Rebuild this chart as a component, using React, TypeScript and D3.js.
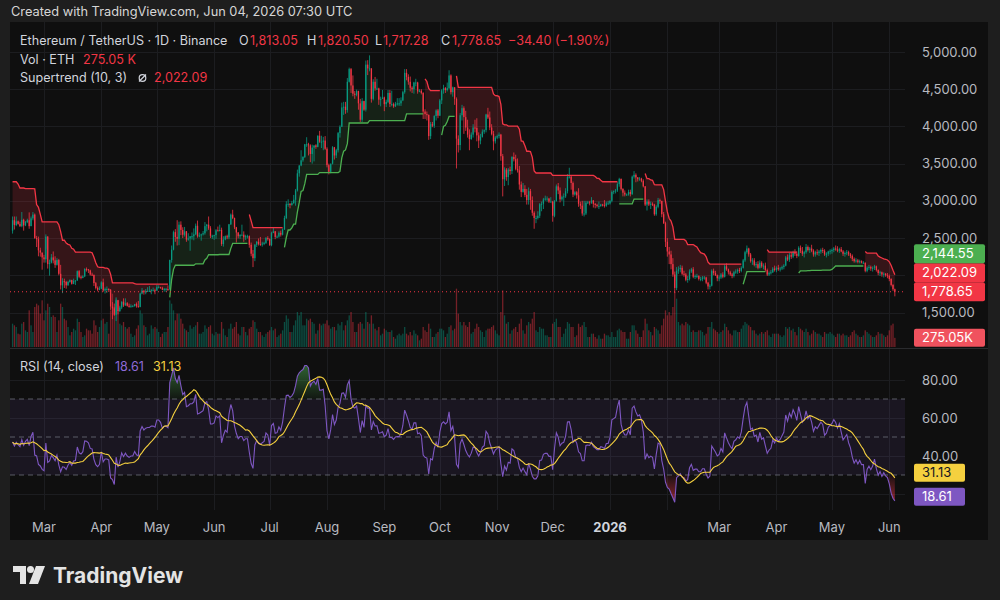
import React, { useMemo } from "react";
import * as d3 from "d3";

// ---------- DATA (daily candles, [high, low, close]; open = previous close) ----------
const firstOpen = 2600;
const startDay = "2025-02-12";

const feb25 = [[2790,2560,2740],[2790,2615,2675],[2790,2660,2725],[2735,2680,2690],[2720,2650,2660],[2850,2645,2745],[2760,2600,2670],[2730,2660,2715],[2760,2700,2740],[2845,2625,2660],[2790,2660,2765],[2850,2740,2815],[2830,2490,2500],[2530,2380,2485],[2520,2255,2335],[2370,2250,2305],[2300,2075,2240]];
const mar25 = [[2275,2170,2215],[2550,2170,2520],[2525,2090,2150],[2210,1995,2170],[2285,2160,2240],[2320,2160,2200],[2255,2100,2140],[2230,2130,2205],[2220,2000,2020],[2140,1810,1865],[1960,1760,1920],[1955,1830,1910],[1925,1820,1865],[1925,1860,1910],[1945,1900,1935],[1940,1875,1885],[1955,1880,1925],[1935,1870,1930],[2065,1925,2055],[2070,1960,1980],[1995,1945,1965],[2000,1960,1985],[2095,1975,2085],[2105,2050,2080],[2085,2030,2065],[2075,1995,2010],[2035,1990,2005],[2010,1855,1895],[1910,1810,1830],[1850,1785,1805],[1850,1800,1820]];
const apr25 = [[1920,1815,1905],[1955,1780,1795],[1835,1755,1815],[1850,1765,1815],[1825,1775,1805],[1815,1535,1580],[1640,1410,1555],[1620,1455,1470],[1690,1385,1665],[1670,1475,1520],[1590,1505,1567],[1650,1545,1645],[1690,1575,1595],[1690,1590,1625],[1640,1580,1590],[1620,1565,1575],[1610,1565,1585],[1600,1575,1585],[1615,1580,1615],[1635,1565,1585],[1655,1565,1575],[1765,1570,1755],[1830,1745,1795],[1795,1740,1770],[1815,1745,1785],[1840,1780,1790],[1855,1785,1790],[1815,1745,1800],[1835,1785,1800],[1820,1745,1795]];
const may25 = [[1870,1790,1840],[1865,1825,1840],[1845,1820,1830],[1845,1800,1805],[1830,1780,1815],[1830,1775,1815],[1865,1790,1810],[2210,1805,2205],[2400,2170,2345],[2600,2335,2580],[2620,2450,2515],[2740,2400,2490],[2720,2405,2680],[2725,2540,2610],[2645,2500,2545],[2650,2520,2590],[2595,2450,2480],[2565,2465,2495],[2525,2330,2525],[2575,2480,2525],[2630,2470,2550],[2695,2540,2665],[2735,2505,2525],[2575,2510,2535],[2560,2465,2550],[2595,2535,2565],[2715,2545,2660],[2690,2590,2680],[2790,2610,2630],[2660,2500,2530],[2545,2490,2530]];
const jun25 = [[2545,2475,2540],[2620,2490,2605],[2655,2590,2595],[2680,2590,2610],[2640,2395,2420],[2525,2385,2480],[2535,2470,2525],[2545,2485,2510],[2690,2485,2685],[2830,2675,2815],[2880,2755,2770],[2775,2620,2645],[2650,2440,2575],[2580,2495,2525],[2550,2490,2545],[2680,2535,2545],[2590,2450,2510],[2545,2475,2525],[2545,2495,2525],[2535,2370,2410],[2440,2255,2290],[2340,2110,2230],[2420,2190,2410],[2460,2380,2450],[2495,2400,2420],[2515,2395,2415],[2450,2385,2425],[2450,2405,2435],[2515,2420,2500],[2525,2465,2485]];
const jul25 = [[2495,2395,2405],[2585,2390,2570],[2640,2565,2590],[2595,2485,2515],[2535,2500,2520],[2590,2505,2570],[2600,2520,2545],[2630,2535,2615],[2800,2610,2770],[2995,2755,2955],[3020,2920,2960],[2970,2900,2945],[3000,2935,2970],[3080,2960,3015],[3160,2935,3140],[3420,3125,3370],[3480,3325,3475],[3680,3465,3545],[3600,3525,3590],[3765,3575,3760],[3855,3725,3760],[3780,3610,3745],[3760,3520,3630],[3755,3500,3715],[3745,3530,3745],[3760,3700,3725],[3880,3720,3875],[3940,3780,3795],[3875,3710,3795],[3860,3680,3810],[3870,3685,3700]];
const aug25 = [[3720,3450,3480],[3500,3355,3390],[3500,3370,3500],[3735,3490,3720],[3725,3555,3610],[3700,3575,3680],[3925,3650,3910],[4015,3850,3995],[4320,3995,4255],[4330,4155,4265],[4330,4170,4220],[4650,4185,4600],[4790,4590,4770],[4785,4450,4550],[4685,4405,4440],[4475,4370,4425],[4495,4405,4475],[4480,4225,4310],[4370,4060,4090],[4380,4060,4340],[4345,4210,4225],[4885,4200,4830],[4890,4690,4780],[4955,4740,4780],[4780,4320,4370],[4635,4350,4600],[4665,4480,4510],[4640,4490,4510],[4520,4290,4360],[4400,4270,4370],[4490,4375,4390]];
const sep25 = [[4400,4205,4300],[4360,4260,4330],[4490,4315,4450],[4490,4260,4300],[4480,4270,4300],[4320,4250,4270],[4330,4260,4305],[4380,4280,4310],[4380,4275,4310],[4390,4275,4350],[4480,4340,4460],[4770,4440,4720],[4770,4620,4665],[4700,4560,4600],[4670,4470,4520],[4540,4450,4500],[4600,4440,4590],[4640,4540,4590],[4600,4440,4470],[4500,4460,4480],[4500,4430,4450],[4460,4100,4200],[4230,4100,4165],[4200,4080,4155],[4160,3820,3870],[4060,3830,4030],[4060,3990,4010],[4150,3980,4140],[4230,4080,4215],[4235,4110,4145]];
const oct25 = [[4370,4140,4350],[4500,4300,4485],[4560,4440,4515],[4530,4450,4490],[4590,4470,4515],[4755,4500,4685],[4700,4430,4460],[4535,4400,4525],[4530,4290,4370],[4390,3435,3835],[3880,3650,3750],[4180,3680,4150],[4290,4080,4245],[4270,3900,4125],[4210,3940,3985],[4090,3850,3890],[3960,3680,3830],[3920,3820,3890],[4030,3850,3985],[4090,3920,3980],[4110,3800,3880],[3920,3710,3810],[3900,3760,3860],[3960,3850,3930],[3960,3900,3950],[4170,3920,4160],[4250,4100,4120],[4200,3950,3985],[4030,3880,3900],[3940,3680,3800],[3870,3770,3850]];
const nov25 = [[3890,3830,3870],[3920,3840,3890],[3900,3540,3600],[3630,3060,3290],[3450,3200,3420],[3440,3270,3320],[3440,3210,3420],[3460,3350,3400],[3600,3360,3590],[3650,3530,3560],[3620,3410,3430],[3570,3380,3410],[3470,3150,3220],[3260,3050,3120],[3240,3110,3160],[3210,3050,3080],[3160,2950,3010],[3180,2950,3130],[3160,2880,3010],[3060,2800,2840],[2860,2625,2770],[2800,2700,2770],[2860,2750,2800],[2970,2770,2955],[2990,2860,2960],[3040,2890,3020],[3070,3000,3030],[3060,2990,3030],[3040,2970,2990],[3050,2980,2990]];
const dec25 = [[3000,2720,2800],[3010,2780,3000],[3220,2990,3195],[3240,3090,3140],[3180,2980,3020],[3070,3000,3050],[3100,2930,3060],[3170,3040,3130],[3360,3100,3320],[3445,3300,3325],[3340,3150,3240],[3260,3050,3085],[3130,3070,3115],[3130,3030,3075],[3170,2920,2960],[2990,2890,2935],[3000,2800,2830],[3000,2790,2830],[3000,2810,2975],[3000,2960,2980],[3000,2940,2975],[3050,2960,3005],[3010,2910,2960],[2970,2900,2945],[2960,2910,2930],[2990,2890,2930],[2960,2920,2950],[2960,2925,2945],[3010,2910,2935],[2990,2920,2965],[3000,2950,2965]];
const jan26 = [[3010,2950,3000],[3140,2980,3120],[3140,3090,3130],[3160,3100,3140],[3250,3120,3225],[3310,3190,3295],[3300,3140,3160],[3170,3060,3110],[3140,3060,3085],[3100,3070,3085],[3150,3070,3120],[3150,3060,3090],[3340,3080,3325],[3400,3300,3350],[3370,3250,3315],[3320,3260,3290],[3320,3270,3300],[3310,3250,3270],[3290,3180,3195],[3200,2930,2950],[3020,2870,2990],[3020,2930,2950],[2990,2890,2960],[2980,2930,2950],[2960,2800,2820],[2940,2800,2920],[3040,2900,3010],[3030,2960,3000],[3000,2780,2820],[2850,2690,2700],[2720,2380,2450]];
const feb26 = [[2500,2250,2320],[2380,2150,2280],[2330,2080,2150],[2230,1980,2010],[2050,1760,1830],[2110,1800,2060],[2120,2020,2080],[2140,2040,2100],[2130,2000,2020],[2060,1980,2010],[2030,1920,1940],[1990,1900,1950],[2080,1930,2050],[2100,2030,2080],[2110,1960,1980],[2010,1950,1990],[2020,1960,1990],[2000,1930,1950],[1980,1920,1950],[1990,1920,1970],[1990,1940,1970],[1980,1880,1900],[1910,1810,1850],[1880,1810,1860],[2080,1850,2060],[2090,2000,2030],[2060,1990,2000],[2010,1920,1960]];
const mar26 = [[2000,1920,1970],[2030,1950,2010],[2040,1960,1980],[2150,1970,2120],[2160,2060,2080],[2090,2010,2040],[2060,1990,2010],[2030,1960,1990],[2060,1970,2040],[2080,2020,2050],[2090,2020,2070],[2100,2030,2060],[2120,2040,2100],[2220,2090,2200],[2330,2180,2310],[2400,2290,2360],[2370,2250,2280],[2300,2170,2190],[2230,2140,2200],[2230,2120,2140],[2180,2100,2150],[2190,2080,2100],[2200,2090,2170],[2190,2100,2120],[2160,2080,2130],[2170,2050,2070],[2090,1990,2010],[2050,1990,2030],[2070,2010,2040],[2110,2030,2090],[2130,2050,2070]];
const apr26 = [[2120,2040,2100],[2140,2060,2080],[2110,2050,2090],[2130,2070,2110],[2150,2080,2130],[2260,2120,2240],[2280,2190,2210],[2300,2180,2270],[2310,2220,2250],[2330,2230,2310],[2350,2260,2290],[2320,2230,2260],[2390,2250,2370],[2400,2300,2330],[2380,2260,2290],[2330,2240,2310],[2420,2290,2380],[2400,2320,2340],[2380,2300,2360],[2410,2310,2330],[2350,2250,2280],[2330,2250,2310],[2350,2270,2300],[2340,2260,2320],[2360,2290,2340],[2370,2300,2330],[2350,2260,2280],[2310,2240,2290],[2330,2260,2320],[2350,2280,2330]];
const may26 = [[2360,2290,2340],[2380,2310,2360],[2400,2330,2350],[2390,2310,2330],[2370,2300,2350],[2380,2310,2320],[2340,2260,2290],[2320,2250,2300],[2340,2270,2310],[2330,2260,2280],[2300,2230,2260],[2280,2190,2220],[2240,2170,2190],[2230,2170,2200],[2220,2160,2180],[2210,2160,2190],[2200,2160,2170],[2190,2150,2170],[2170,2040,2060],[2120,2040,2100],[2140,2070,2110],[2130,2060,2090],[2120,2050,2100],[2140,2070,2120],[2130,2050,2070],[2080,2000,2030],[2060,1990,2040],[2050,1980,2010],[2040,1970,2020],[2030,1980,2000],[2030,1960,1990]];
const jun26 = [[2010,1920,1950],[1960,1850,1870],[1880,1790,1813.05],[1820.5,1717.28,1778.65]];

// daily volume, thousands of ETH
const volFeb25 = [700,650,600,400,380,700,750,500,450,1100,650,450,1200,1300,1250,1000,1400];
const volMar25 = [800,1100,1300,1200,900,950,900,450,800,1300,1200,850,800,600,350,450,550,500,850,750,450,300,350,550,500,500,400,800,650,450,600];
const volApr25 = [800,850,700,750,400,1100,1600,1200,1500,1100,700,650,750,600,550,600,400,300,350,550,650,1100,1000,650,600,350,400,650,550,600];
const volMay25 = [550,450,300,400,450,450,600,1400,1300,1100,800,1000,1000,850,700,550,500,450,650,550,600,650,750,400,400,450,650,550,600,650,400];
const volJun25 = [350,450,400,400,750,550,350,300,550,700,550,600,750,400,350,600,600,450,350,550,600,800,750,550,450,450,350,300,400,450];
const volJul25 = [500,600,500,550,300,350,400,500,750,950,850,450,450,650,800,1050,950,1050,650,650,850,800,850,750,700,400,500,700,650,700,700];
const volAug25 = [800,650,550,600,600,500,700,650,750,500,650,800,950,1050,750,450,450,700,750,700,550,1050,750,700,950,700,550,500,600,350,400];
const volSep25 = [550,500,450,450,500,300,250,350,400,350,400,600,400,350,450,350,500,400,350,200,250,600,500,450,700,550,300,300,400,450];
const volOct25 = [550,550,500,300,400,600,650,500,550,1750,1000,750,650,750,650,600,750,400,450,550,700,600,500,450,300,500,550,550,600,650,500];
const volNov25 = [400,350,1050,1700,950,700,750,400,500,550,600,450,700,850,500,400,650,750,700,850,1050,500,450,600,550,550,350,350,300,300];
const volDec25 = [700,750,850,600,600,300,400,550,750,700,600,600,300,350,700,600,650,750,600,300,300,400,400,300,250,350,250,250,400,350,350];
const volJan26 = [300,450,300,300,500,550,500,450,450,250,250,450,650,650,500,400,300,300,500,850,700,500,450,350,600,550,500,400,650,850,1100];
const volFeb26 = [950,1050,950,1200,1650,1450,750,650,700,650,750,700,650,450,500,450,450,500,500,450,350,400,600,600,750,550,500,450];
const volMar26 = [400,450,500,700,600,500,400,350,500,500,450,450,550,650,750,700,650,600,500,500,400,350,400,450,400,450,500,350,300,400,400];
const volApr26 = [400,400,350,300,350,600,550,600,500,550,450,350,600,550,500,450,550,450,350,400,500,450,400,400,350,300,450,400,400,450];
const volMay26 = [400,350,300,400,400,350,400,350,350,300,350,450,500,400,350,300,300,350,500,450,400,350,300,300,350,450,400,400,350,300,350];
const volJun26 = [500,650,700,275.05];

// indicator seeds (state before the first visible bar)
const stSeed = { atr: 190, upper: 3284, lower: 2200, close: 2600, dir: 1 };
const rsiSeed = { gain: 45, loss: 62 };

// header / last values
const lastO = "1,813.05", lastH = "1,820.50", lastL = "1,717.28", lastC = "1,778.65";
const lastChange = "−34.40 (−1.90%)";
const lastVolLabel = "275.05 K";
const lastVolBox = "275.05K";
const stValue = 2022.09;
const stUpValue = 2144.55;
const lastClose = 1778.65;
const rsiLast = 18.61;
const rsiMaLast = 31.13;

const priceTicks = [1500, 2000, 2500, 3000, 3500, 4000, 4500, 5000];
const priceTickLabels = [1500, 2500, 3000, 3500, 4000, 4500, 5000];
const rsiTicks = [20, 40, 60, 80];
const rsiTickLabels = [40, 60, 80];
const rsiLevels = [70, 50, 30];
const timeTicks: [string, string][] = [
  ["2025-03-01", "Mar"], ["2025-04-01", "Apr"], ["2025-05-01", "May"], ["2025-06-01", "Jun"],
  ["2025-07-01", "Jul"], ["2025-08-01", "Aug"], ["2025-09-01", "Sep"], ["2025-10-01", "Oct"],
  ["2025-11-01", "Nov"], ["2025-12-01", "Dec"], ["2026-01-01", "2026"], ["2026-03-01", "Mar"],
  ["2026-04-01", "Apr"], ["2026-05-01", "May"], ["2026-06-01", "Jun"],
];

// ---------- helpers ----------
type Bar = { t: Date; o: number; h: number; l: number; c: number; v: number };

function buildBars(): Bar[] {
  const ohlc = [feb25, mar25, apr25, may25, jun25, jul25, aug25, sep25, oct25, nov25, dec25, jan26, feb26, mar26, apr26, may26, jun26].flat();
  const vols = [volFeb25, volMar25, volApr25, volMay25, volJun25, volJul25, volAug25, volSep25, volOct25, volNov25, volDec25, volJan26, volFeb26, volMar26, volApr26, volMay26, volJun26].flat();
  const t0 = new Date(startDay + "T00:00:00Z");
  let prev = firstOpen;
  return ohlc.map(([h, l, c], i) => {
    const o = prev;
    prev = c;
    return { t: d3.utcDay.offset(t0, i), o, h: Math.max(h, o, c), l: Math.min(l, o, c), c, v: vols[i] ?? 0 };
  });
}

function supertrend(bars: Bar[], period = 10, factor = 3) {
  let atr = stSeed.atr, prevUpper = stSeed.upper, prevLower = stSeed.lower, prevClose = stSeed.close;
  let dir = stSeed.dir;
  let prevST = dir === 1 ? prevUpper : prevLower;
  return bars.map((b) => {
    const tr = Math.max(b.h - b.l, Math.abs(b.h - prevClose), Math.abs(b.l - prevClose));
    atr = (atr * (period - 1) + tr) / period;
    const src = (b.h + b.l) / 2;
    let upper = src + factor * atr;
    let lower = src - factor * atr;
    lower = lower > prevLower || prevClose < prevLower ? lower : prevLower;
    upper = upper < prevUpper || prevClose > prevUpper ? upper : prevUpper;
    if (prevST === prevUpper) dir = b.c > upper ? -1 : 1;
    else dir = b.c < lower ? 1 : -1;
    const st = dir === -1 ? lower : upper;
    prevUpper = upper; prevLower = lower; prevClose = b.c; prevST = st;
    return { st, dir };
  });
}

function rsiCalc(bars: Bar[], n = 14) {
  let ag = rsiSeed.gain, al = rsiSeed.loss, prev = firstOpen;
  return bars.map((b) => {
    const ch = b.c - prev;
    prev = b.c;
    ag = (ag * (n - 1) + Math.max(ch, 0)) / n;
    al = (al * (n - 1) + Math.max(-ch, 0)) / n;
    return al === 0 ? 100 : 100 - 100 / (1 + ag / al);
  });
}

const fmt = d3.format(",.2f");

const BG = "#1e1e1e", PANE = "#0f0f0f", GRID = "#1c1d20", TXT = "#b8bac0", HEAD = "#d1d4dc";
const UP = "#089981", DOWN = "#f23645", STUP = "#4caf50", STDN = "#f23645";
const FONT = "Inter, 'Noto Sans', Roboto, sans-serif";

export default function App() {
  const bars = useMemo(buildBars, []);
  const st = useMemo(() => supertrend(bars), [bars]);
  const rsi = useMemo(() => rsiCalc(bars), [bars]);
  const rsiMa = useMemo(() => rsi.map((_, i) => d3.mean(rsi.slice(Math.max(0, i - 13), i + 1)) as number), [rsi]);

  const L = 10, R = 905, AXR = 988, TOP = 22, MAINB = 348, RSIT = 349, RSIB = 510, BOT = 540;
  const x = d3.scaleUtc().domain([new Date("2025-03-01T00:00:00Z"), new Date("2026-01-01T00:00:00Z")]).range([44, 610]);
  const y = d3.scaleLinear().domain([1500, 5000]).range([312.5, 52]);
  const yv = d3.scaleLinear().domain([0, 1000]).range([347, 347 - 1000 / 30]);
  const yr = d3.scaleLinear().domain([40, 80]).range([456, 380]);

  // supertrend runs
  const runs: { dir: number; idx: number[] }[] = [];
  st.forEach((s, i) => {
    const last = runs[runs.length - 1];
    if (!last || last.dir !== s.dir) runs.push({ dir: s.dir, idx: [i] });
    else last.idx.push(i);
  });
  const stLine = d3.line<number>().x((i) => x(bars[i].t)).y((i) => y(st[i].st));
  const stArea = d3.area<number>().x((i) => x(bars[i].t)).y0((i) => y(st[i].st)).y1((i) => y((bars[i].o + bars[i].c) / 2));

  const rsiIdx = bars.map((_, i) => i);
  const rsiLine = d3.line<number>().x((i) => x(bars[i].t)).y((i) => yr(rsi[i]));
  const maLine = d3.line<number>().x((i) => x(bars[i].t)).y((i) => yr(rsiMa[i]));
  const obArea = d3.area<number>().x((i) => x(bars[i].t)).y0(yr(70)).y1((i) => yr(rsi[i]));
  const osArea = d3.area<number>().x((i) => x(bars[i].t)).y0(yr(30)).y1((i) => yr(rsi[i]));

  const months = d3.utcMonth.range(new Date("2025-03-01T00:00:00Z"), new Date("2026-06-02T00:00:00Z"));

  // right-axis price label boxes with collision avoidance
  const boxes = [
    { v: lastClose, color: DOWN, text: fmt(lastClose) },
    { v: stValue, color: STDN, text: fmt(stValue) },
    { v: stUpValue, color: STUP, text: fmt(stUpValue) },
  ];
  let prevY = Infinity;
  const boxY = boxes.map((b) => {
    const yy = Math.min(y(b.v), prevY - 19);
    prevY = yy;
    return yy;
  });

  const bw = 1.3;
  const FS = 13;

  return (
    <svg width={1000} height={600} style={{ position: "absolute", left: 0, top: 0, fontFamily: FONT }}>
      <defs>
        <clipPath id="mainClip"><rect x={L} y={TOP} width={R - L} height={MAINB - TOP} /></clipPath>
        <clipPath id="rsiClip"><rect x={L} y={RSIT} width={R - L} height={RSIB - RSIT} /></clipPath>
        <clipPath id="obClip"><rect x={L} y={RSIT} width={R - L} height={yr(70) - RSIT} /></clipPath>
        <clipPath id="osClip"><rect x={L} y={yr(30)} width={R - L} height={RSIB - yr(30)} /></clipPath>
        <linearGradient id="obGrad" x1="0" y1={RSIT} x2="0" y2={yr(70)} gradientUnits="userSpaceOnUse">
          <stop offset="0" stopColor="#4caf50" stopOpacity={0.75} />
          <stop offset="1" stopColor="#4caf50" stopOpacity={0.05} />
        </linearGradient>
        <linearGradient id="osGrad" x1="0" y1={yr(30)} x2="0" y2={RSIB} gradientUnits="userSpaceOnUse">
          <stop offset="0" stopColor="#f23645" stopOpacity={0.05} />
          <stop offset="1" stopColor="#f23645" stopOpacity={0.75} />
        </linearGradient>
      </defs>

      <rect x={0} y={0} width={1000} height={600} fill={BG} />
      <rect x={L} y={TOP} width={AXR - L} height={BOT - TOP} fill={PANE} />

      {/* grid */}
      <g stroke={GRID} strokeWidth={1}>
        {months.map((m, i) => (
          <line key={"vg" + i} x1={Math.round(x(m)) + 0.5} x2={Math.round(x(m)) + 0.5} y1={TOP} y2={RSIB} />
        ))}
        {priceTicks.map((p) => (
          <line key={"pg" + p} x1={L} x2={R} y1={Math.round(y(p)) + 0.5} y2={Math.round(y(p)) + 0.5} />
        ))}
        {rsiTicks.map((p) => (
          <line key={"rg" + p} x1={L} x2={R} y1={Math.round(yr(p)) + 0.5} y2={Math.round(yr(p)) + 0.5} />
        ))}
      </g>

      {/* main pane */}
      <g clipPath="url(#mainClip)">
        {runs.map((r, k) => (
          <path key={"sa" + k} d={stArea(r.idx) || ""} fill={r.dir === -1 ? "rgba(76,175,80,0.12)" : "rgba(242,54,69,0.17)"} />
        ))}
        {bars.map((b, i) => (
          <rect key={"v" + i} x={x(b.t) - bw / 2} y={yv(b.v)} width={bw} height={347 - yv(b.v)}
            fill={b.c >= b.o ? "rgba(8,153,129,0.45)" : "rgba(242,54,69,0.45)"} />
        ))}
        {bars.map((b, i) => {
          const cx = x(b.t);
          const col = b.c >= b.o ? UP : DOWN;
          const top = y(Math.max(b.o, b.c));
          const hgt = Math.max(1, y(Math.min(b.o, b.c)) - top);
          return (
            <g key={"c" + i}>
              <line x1={cx} x2={cx} y1={y(b.h)} y2={y(b.l)} stroke={col} strokeWidth={0.8} />
              <rect x={cx - bw / 2} y={top} width={bw} height={hgt} fill={col} />
            </g>
          );
        })}
        {runs.map((r, k) => (
          <path key={"sl" + k} d={stLine(r.idx) || ""} fill="none" stroke={r.dir === -1 ? STUP : STDN} strokeWidth={1.3} />
        ))}
        <line x1={L} x2={R} y1={y(lastClose)} y2={y(lastClose)} stroke={DOWN} strokeWidth={1} strokeDasharray="1 3" />
      </g>

      {/* pane separator */}
      <line x1={L} x2={AXR} y1={348.5} y2={348.5} stroke="#2a2b2e" strokeWidth={1} />

      {/* RSI pane */}
      <g clipPath="url(#rsiClip)">
        <rect x={L} y={yr(70)} width={R - L} height={yr(30) - yr(70)} fill="rgba(126,87,194,0.1)" />
        {rsiLevels.map((lv) => (
          <line key={"lv" + lv} x1={L} x2={R} y1={yr(lv)} y2={yr(lv)} stroke="#787b86" strokeOpacity={0.7} strokeDasharray="5 4" />
        ))}
        <path d={obArea(rsiIdx) || ""} fill="url(#obGrad)" clipPath="url(#obClip)" />
        <path d={osArea(rsiIdx) || ""} fill="url(#osGrad)" clipPath="url(#osClip)" />
        <path d={rsiLine(rsiIdx) || ""} fill="none" stroke="#7e57c2" strokeWidth={1.1} />
        <path d={maLine(rsiIdx) || ""} fill="none" stroke="#f5d03f" strokeWidth={1.1} />
      </g>

      {/* price axis labels */}
      <g fontSize={FS} fill={TXT}>
        {priceTickLabels.map((p) => (
          <text key={"pl" + p} x={922} y={y(p) + 4.5}>{fmt(p)}</text>
        ))}
        {rsiTickLabels.map((p) => (
          <text key={"rl" + p} x={922} y={yr(p) + 4.5}>{fmt(p)}</text>
        ))}
      </g>
      {boxes.map((b, k) => (
        <g key={"bx" + k}>
          <rect x={914} y={boxY[k] - 9.5} width={71} height={19} fill={b.color} rx={2} />
          <text x={922} y={boxY[k] + 4.5} fontSize={FS} fill="#ffffff">{b.text}</text>
        </g>
      ))}
      <rect x={914} y={yv(275.05) - 9} width={71} height={18} fill="#f0525e" rx={2} />
      <text x={922} y={yv(275.05) + 4.5} fontSize={FS} fill="#ffffff">{lastVolBox}</text>
      <rect x={914} y={yr(rsiMaLast) - 9} width={51} height={18} fill="#f5d03f" rx={2} />
      <text x={922} y={yr(rsiMaLast) + 4.5} fontSize={FS} fill="#131722">{fmt(rsiMaLast)}</text>
      <rect x={914} y={yr(rsiLast) - 9} width={51} height={18} fill="#7e57c2" rx={2} />
      <text x={922} y={yr(rsiLast) + 4.5} fontSize={FS} fill="#ffffff">{fmt(rsiLast)}</text>

      {/* time axis */}
      <g fontSize={FS} fill={TXT} textAnchor="middle">
        {timeTicks.map(([d, lab]) => (
          <text key={d} x={x(new Date(d + "T00:00:00Z"))} y={532} fontWeight={lab === "2026" ? 700 : 400} fill={lab === "2026" ? "#d1d4dc" : TXT}>{lab}</text>
        ))}
      </g>

      {/* header */}
      <text x={11} y={16} fontSize={12.8} fill="#d6d6d6">Created with TradingView.com, Jun 04, 2026 07:30 UTC</text>
      <g fontSize={12.6}>
        <text x={20} y={45} fill={HEAD}>Ethereum / TetherUS · 1D · Binance</text>
        <text x={239} y={45} fill={HEAD}>O</text>
        <text x={250} y={45} fill={DOWN}>{lastO}</text>
        <text x={307} y={45} fill={HEAD}>H</text>
        <text x={318} y={45} fill={DOWN}>{lastH}</text>
        <text x={375} y={45} fill={HEAD}>L</text>
        <text x={383} y={45} fill={DOWN}>{lastL}</text>
        <text x={441} y={45} fill={HEAD}>C</text>
        <text x={452} y={45} fill={DOWN}>{lastC}</text>
        <text x={508} y={45} fill={DOWN}>{lastChange}</text>
        <text x={20} y={64} fill={HEAD}>Vol · ETH</text>
        <text x={83} y={64} fill={DOWN}>{lastVolLabel}</text>
        <text x={20} y={82} fill={HEAD}>Supertrend (10, 3)</text>
        <text x={154} y={82} fill={DOWN}>{fmt(stValue)}</text>
        <text x={20} y={371} fill={HEAD}>RSI (14, close)</text>
        <text x={115} y={371} fill="#8e6ad8">{fmt(rsiLast)}</text>
        <text x={153} y={371} fill="#f5d03f">{fmt(rsiMaLast)}</text>
      </g>
      <g stroke={HEAD} strokeWidth={1.2} fill="none">
        <circle cx={142.5} cy={78} r={3.3} />
        <line x1={139} x2={146} y1={81.5} y2={74.5} />
      </g>

      {/* footer logo */}
      <g fill="#e4e4e4">
        <path d="M13,566 H26 V584 H20 V572 H13 Z" />
        <circle cx={30.5} cy={569.5} r={3.5} />
        <path d="M36,566 H45 L38,584 H29 Z" />
        <text x={53} y={583} fontSize={21} fontWeight={700} fontFamily={FONT}>TradingView</text>
      </g>
    </svg>
  );
}
